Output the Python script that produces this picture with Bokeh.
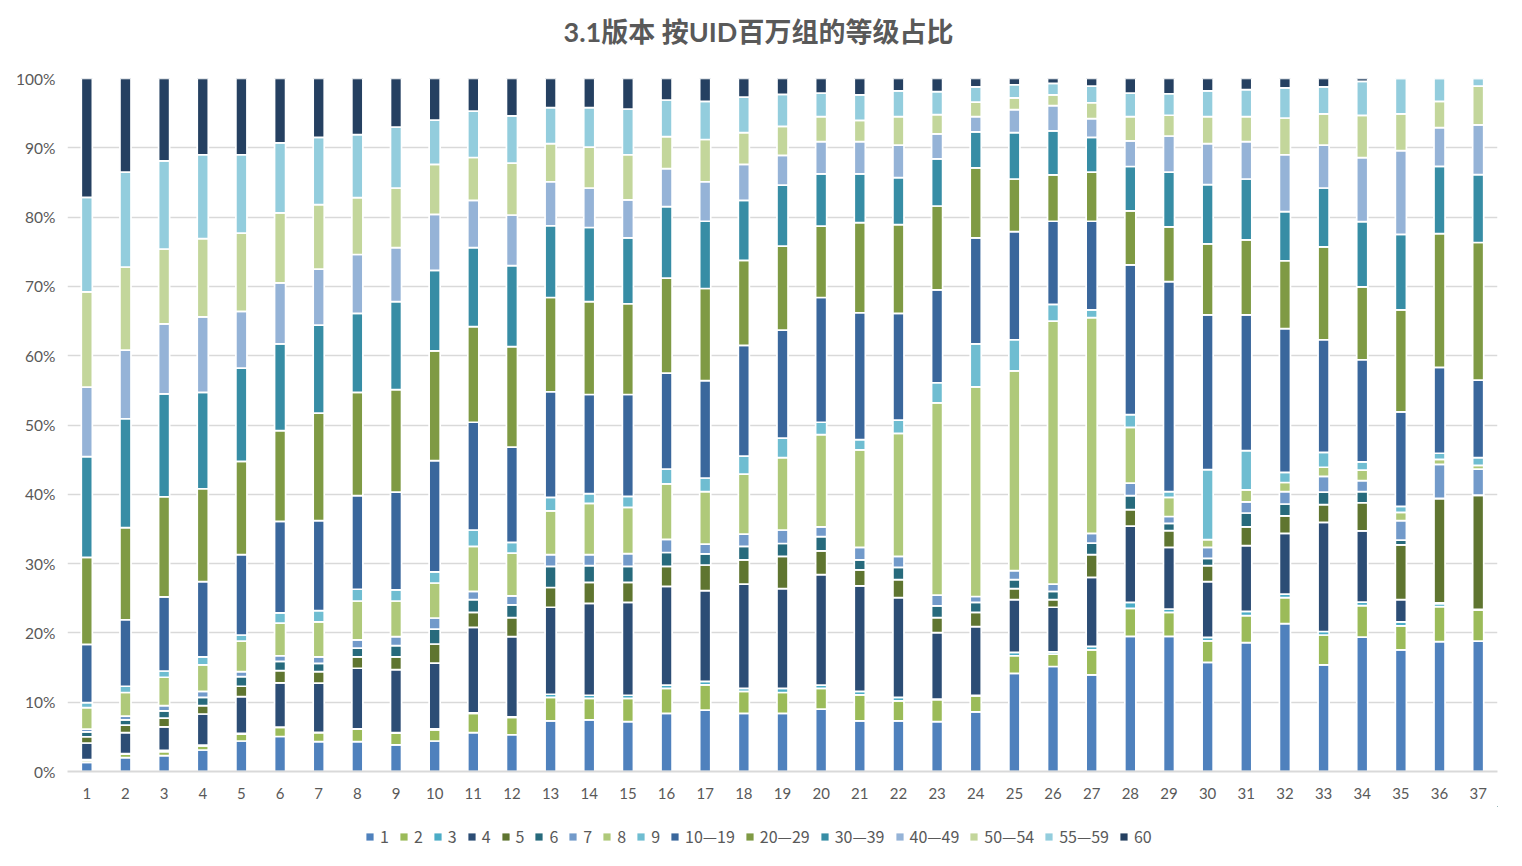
from bokeh.plotting import figure
from bokeh.layouts import column
from bokeh.models import (FactorRange, Range1d, Legend, LegendItem, NumeralTickFormatter,
                          ColumnDataSource, FixedTicker, Title)
from bokeh.embed import file_html
from bokeh.resources import INLINE

# ---------------- data ----------------
categories = ["1", "2", "3", "4", "5", "6", "7", "8", "9", "10", "11", "12", "13", "14", "15",
              "16", "17", "18", "19", "20", "21", "22", "23", "24", "25", "26", "27", "28", "29",
              "30", "31", "32", "33", "34", "35", "36", "37"]

series_labels = ["1", "2", "3", "4", "5", "6", "7", "8", "9", "10—19", "20—29", "30—39",
                 "40—49", "50—54", "55—59", "60"]

s1 = [1.3, 2.0, 2.3, 3.1, 4.4, 5.05, 4.3, 4.3, 3.85, 4.4, 5.6, 5.3, 7.3, 7.45, 7.2, 8.4, 8.85, 8.4, 8.4, 9.0, 7.3, 7.3, 7.2, 8.6, 14.15, 15.15, 13.95, 19.5, 19.5, 15.75, 18.6, 21.35, 15.4, 19.35, 17.55, 18.75, 18.85]
s2 = [0.3, 0.5, 0.55, 0.6, 1.0, 1.3, 1.3, 1.8, 1.7, 1.6, 2.8, 2.5, 3.4, 3.1, 3.35, 3.6, 3.65, 3.15, 3.0, 3.0, 3.75, 2.9, 3.15, 2.3, 2.55, 1.8, 3.6, 4.05, 3.45, 3.1, 3.9, 3.75, 4.3, 4.55, 3.45, 5.05, 4.5]
s3 = [0.1, 0.1, 0.2, 0.1, 0.1, 0.05, 0.05, 0.05, 0.05, 0.15, 0.05, 0.1, 0.45, 0.45, 0.45, 0.45, 0.5, 0.45, 0.6, 0.45, 0.5, 0.5, 0.1, 0.1, 0.5, 0.3, 0.5, 0.85, 0.5, 0.5, 0.6, 0.5, 0.5, 0.5, 0.6, 0.45, 0.05]
s4 = [2.4, 3.0, 3.4, 4.5, 5.3, 6.4, 7.1, 8.75, 9.1, 9.5, 12.35, 11.55, 12.55, 13.25, 13.4, 14.25, 13.1, 15.05, 14.4, 15.95, 15.25, 14.4, 9.6, 9.9, 7.6, 6.45, 9.95, 11.0, 8.9, 8.05, 9.5, 8.75, 15.75, 10.25, 3.2, 0.1, 0.05]
s5 = [0.9, 1.1, 1.25, 1.2, 1.5, 1.75, 1.65, 1.65, 1.85, 2.75, 2.15, 2.75, 2.85, 3.05, 2.9, 2.9, 3.7, 3.5, 4.65, 3.45, 2.3, 2.6, 2.15, 2.05, 1.6, 1.1, 3.3, 2.4, 2.4, 2.3, 2.7, 2.55, 2.55, 4.05, 7.9, 15.05, 16.45]
s6 = [0.7, 0.75, 1.05, 1.2, 1.4, 1.35, 1.2, 1.25, 1.6, 2.15, 1.85, 1.85, 3.05, 2.4, 2.3, 2.0, 1.6, 1.95, 1.85, 2.05, 1.45, 1.75, 1.7, 1.45, 1.3, 1.2, 1.65, 2.0, 1.05, 1.05, 2.0, 1.7, 1.8, 1.6, 0.7, 0.05, 0.05]
s7 = [0.4, 0.55, 0.75, 0.85, 0.7, 0.8, 0.95, 1.2, 1.3, 1.6, 1.2, 1.3, 1.7, 1.6, 1.85, 1.9, 1.4, 1.75, 1.95, 1.4, 1.8, 1.6, 1.55, 0.85, 1.3, 1.05, 1.4, 1.8, 1.0, 1.6, 1.6, 1.8, 2.3, 1.6, 2.8, 4.9, 3.75]
s8 = [3.1, 3.4, 4.1, 3.85, 4.4, 4.7, 5.05, 5.6, 5.15, 5.05, 6.5, 6.15, 6.3, 7.4, 6.65, 8.0, 7.6, 8.65, 10.45, 13.3, 14.05, 17.75, 27.75, 30.25, 28.8, 37.95, 31.15, 8.05, 2.75, 1.1, 1.75, 1.3, 1.3, 1.5, 1.2, 0.7, 0.55]
s9 = [0.7, 0.9, 0.9, 1.15, 0.9, 1.5, 1.6, 1.7, 1.6, 1.6, 2.35, 1.55, 1.95, 1.4, 1.6, 2.15, 1.95, 2.6, 2.8, 1.8, 1.5, 1.9, 2.9, 6.2, 4.5, 2.4, 1.1, 1.85, 0.85, 10.1, 5.65, 1.45, 2.15, 1.2, 0.85, 0.9, 1.1]
s10_19 = [8.4, 9.6, 10.7, 10.85, 11.6, 13.2, 13.0, 13.5, 14.1, 16.05, 15.55, 13.75, 15.25, 14.3, 14.7, 13.85, 14.05, 16.0, 15.6, 18.0, 18.3, 15.4, 13.4, 15.3, 15.6, 12.0, 12.8, 21.6, 30.3, 22.35, 19.6, 20.75, 16.25, 14.7, 13.65, 12.4, 11.2]
s20_29 = [12.5, 13.3, 14.45, 13.4, 13.45, 13.1, 15.5, 14.9, 14.8, 15.85, 13.8, 14.5, 13.6, 13.4, 13.1, 13.7, 13.3, 12.25, 12.1, 10.3, 13.0, 12.8, 12.1, 10.1, 7.6, 6.7, 7.1, 7.8, 7.9, 10.25, 10.8, 9.8, 13.4, 10.5, 14.7, 19.3, 19.9]
s30_39 = [14.5, 15.7, 14.85, 13.9, 13.45, 12.5, 12.7, 11.4, 12.7, 11.6, 11.4, 11.7, 10.35, 10.7, 9.5, 10.3, 9.7, 8.65, 8.8, 7.55, 7.05, 6.8, 6.8, 5.2, 6.7, 6.35, 5.0, 6.4, 7.9, 8.55, 8.8, 7.1, 8.5, 9.4, 10.9, 9.7, 9.8]
s40_49 = [10.0, 9.9, 10.1, 10.9, 8.2, 8.8, 8.1, 8.5, 7.8, 8.1, 6.8, 7.3, 6.35, 5.7, 5.5, 5.5, 5.7, 5.2, 4.3, 4.65, 4.65, 4.7, 3.6, 2.2, 3.3, 3.65, 2.7, 3.7, 5.2, 5.9, 5.4, 8.2, 6.2, 9.2, 12.1, 5.6, 7.2]
s50_54 = [13.7, 12.0, 10.8, 11.3, 11.3, 10.1, 9.3, 8.2, 8.6, 7.2, 6.2, 7.5, 5.5, 5.9, 6.5, 4.6, 6.1, 4.6, 4.2, 3.6, 3.05, 4.1, 2.8, 2.1, 1.7, 1.55, 2.3, 3.5, 3.0, 3.9, 3.6, 5.3, 4.5, 6.1, 5.3, 3.8, 5.6]
s55_59 = [13.6, 13.7, 12.7, 12.1, 11.3, 10.1, 9.7, 9.1, 8.8, 6.4, 6.7, 6.8, 5.2, 5.7, 6.6, 5.3, 5.5, 5.1, 4.6, 3.4, 3.7, 3.7, 3.3, 2.2, 1.9, 1.65, 2.4, 3.4, 3.1, 3.7, 3.9, 4.35, 3.9, 4.9, 5.1, 3.3, 1.1]
s60 = [17.1, 13.5, 11.9, 11.0, 11.0, 9.3, 8.5, 8.1, 7.0, 6.0, 4.7, 5.4, 4.2, 4.2, 4.4, 3.1, 3.3, 2.7, 2.3, 2.1, 2.35, 1.8, 1.9, 1.2, 0.9, 0.7, 1.1, 2.1, 2.2, 1.8, 1.6, 1.35, 1.2, 0.4, 0.0, 0.0, 0.0]

series_values = [s1, s2, s3, s4, s5, s6, s7, s8, s9, s10_19, s20_29, s30_39,
                 s40_49, s50_54, s55_59, s60]

colors = ["#4F81BD", "#9BBB59", "#4BACC6", "#2C4D75", "#5F7530", "#276A7C",
          "#729ACA", "#AFC97A", "#6FBDD1", "#3A679C", "#7F9A44", "#378DA5",
          "#95B3D7", "#C3D69B", "#93CDDD", "#254061"]

y_ticks = [0, 0.1, 0.2, 0.3, 0.4, 0.5, 0.6, 0.7, 0.8, 0.9, 1.0]
title_text = "3.1版本 按UID百万组的等级占比"

# ---------------- build (100% stacked) ----------------
totals = [sum(col) for col in zip(*series_values)]
keys = ["k%d" % i for i in range(len(series_values))]
data = {"x": categories}
for k, vals in zip(keys, series_values):
    data[k] = [v / t for v, t in zip(vals, totals)]
src = ColumnDataSource(data)

LATIN = "Lato"
CJK = "Noto Sans CJK SC"
TITLE_FONT = "Lato, Noto Sans CJK SC"
GREY = "#595959"

p = figure(width=1506, height=806, x_range=FactorRange(factors=categories),
           y_range=Range1d(0, 1), output_backend="svg", toolbar_location=None,
           min_border_left=67, min_border_right=9, min_border_top=78, min_border_bottom=35)

renderers = p.vbar_stack(keys, x="x", width=0.286, source=src, fill_color=colors,
                         line_color="white", line_width=1.7)

# real title is the plot's own title (outermost); a blank spacer title sits next to the frame
p.title.text = title_text
p.title.text_font = TITLE_FONT
p.title.text_font_size = "27px"
p.title.text_font_style = "bold"
p.title.text_color = GREY
p.title.align = "left"
p.title.offset = 496
p.title.standoff = 14

spacer_title = Title(text=" ", text_font=LATIN, text_font_size="10px", standoff=10)
p.add_layout(spacer_title, "above")

p.outline_line_color = None
p.background_fill_color = "white"
p.border_fill_color = "white"

p.xgrid.grid_line_color = None
p.ygrid.grid_line_color = "#D9D9D9"
p.ygrid.grid_line_width = 1.5

p.yaxis.ticker = FixedTicker(ticks=y_ticks)
p.yaxis.formatter = NumeralTickFormatter(format="0%")
p.yaxis.axis_line_color = None
p.yaxis.major_tick_line_color = None
p.yaxis.minor_tick_line_color = None
p.yaxis.major_label_text_font = LATIN
p.yaxis.major_label_text_font_size = "15.5px"
p.yaxis.major_label_text_color = GREY
p.yaxis.major_label_standoff = 6

p.xaxis.axis_line_color = "#D9D9D9"
p.xaxis.axis_line_width = 2
p.xaxis.major_tick_line_color = None
p.xaxis.minor_tick_line_color = None
p.xaxis.major_label_text_font = LATIN
p.xaxis.major_label_text_font_size = "15px"
p.xaxis.major_label_text_color = GREY
p.xaxis.major_label_standoff = 10

# ---------------- legend strip (own small figure, swatches only) ----------------
q = figure(width=1506, height=50, x_range=Range1d(0, 1), y_range=Range1d(0, 1),
           output_backend="svg", toolbar_location=None,
           x_axis_location=None, y_axis_location=None, min_border=0)
q.grid.visible = False
q.outline_line_color = None
q.background_fill_color = "white"
q.border_fill_color = "white"

# swatch renderers sit outside the visible range; they only feed the legend glyphs
legend_renderers = [q.vbar(x=[5], top=[5], bottom=[4], width=0.1, fill_color=c, line_color=None)
                    for c in colors]
items = [LegendItem(label=lab, renderers=[r]) for lab, r in zip(series_labels, legend_renderers)]
legend = Legend(items=items, orientation="horizontal", location=(298, 8),
                label_text_font=CJK, label_text_font_size="16px", label_text_color=GREY,
                glyph_width=9, glyph_height=9, label_standoff=6, spacing=10,
                label_width=0, label_height=0,
                padding=4, margin=0, border_line_color=None, background_fill_alpha=0)
q.add_layout(legend, "center")

layout = column(p, q, spacing=0)
open("out.html", "w").write(file_html(layout, INLINE))
